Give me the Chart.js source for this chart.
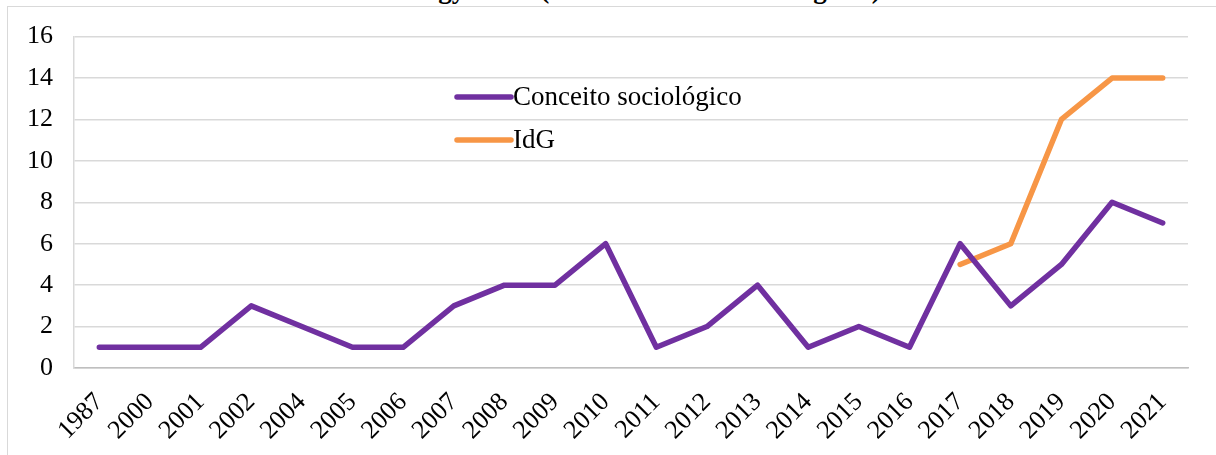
<!DOCTYPE html>
<html>
<head>
<meta charset="utf-8">
<script src="https://cdn.jsdelivr.net/npm/chart.js@4.4.1/dist/chart.umd.min.js"></script>
<style>
  html, body { margin: 0; padding: 0; background: #fff; overflow: hidden; }
  #wrap { position: relative; width: 1216px; height: 455px; }
  #frame { position: absolute; left: 7px; top: 6px; width: 1220px; height: 460px; border: 1.5px solid #d9d9d9; box-sizing: border-box; }
  #titulo { position: absolute; left: 0; width: 1250px; top: -26px; line-height: 27px; text-align: center; font: bold 27px "Liberation Serif", "Times New Roman", serif; color: #000; white-space: nowrap; }
  canvas { position: absolute; left: 0; top: 0; }
</style>
</head>
<body>
<div id="wrap">
  <div id="titulo">ideology" AfD (conservative-Ultrakategorie)</div>
  <div id="frame"></div>
  <canvas id="grafico" width="1216" height="455"></canvas>
</div>
<script>
// Dados
const anos = ['1987', '2000', '2001', '2002', '2004', '2005', '2006', '2007', '2008', '2009', '2010',
              '2011', '2012', '2013', '2014', '2015', '2016', '2017', '2018', '2019', '2020', '2021'];
const conceitoSociologico = [1, 1, 1, 3, 2, 1, 1, 3, 4, 4, 6, 1, 2, 4, 1, 2, 1, 6, 3, 5, 8, 7];
const idg = [null, null, null, null, null, null, null, null, null, null, null,
             null, null, null, null, null, null, 5, 6, 12, 14, 14];
const nomesSeries = ['Conceito sociológico', 'IdG'];
const coresSeries = ['#7030A0', '#F79646'];

const fonteSerif = '"Liberation Serif", "Times New Roman", serif';

// legenda desenhada dentro da área do gráfico
const legendaInterna = {
    id: 'legendaInterna',
    afterDraw(chart) {
        const ctx = chart.ctx;
        ctx.save();
        chart.data.datasets.forEach((ds, i) => {
            const y = 97 + i * 43;
            ctx.strokeStyle = ds.borderColor;
            ctx.lineWidth = 5.5;
            ctx.lineCap = 'round';
            ctx.beginPath();
            ctx.moveTo(457, y);
            ctx.lineTo(511, y);
            ctx.stroke();
            ctx.fillStyle = '#000';
            ctx.font = '27px ' + fonteSerif;
            ctx.textBaseline = 'middle';
            ctx.fillText(ds.label, 513, y + 1);
        });
        ctx.restore();
    }
};

const ctx = document.getElementById('grafico').getContext('2d');
new Chart(ctx, {
    type: 'line',
    data: {
        labels: anos,
        datasets: [
            { label: nomesSeries[0], data: conceitoSociologico, borderColor: coresSeries[0], backgroundColor: coresSeries[0] },
            { label: nomesSeries[1], data: idg, borderColor: coresSeries[1], backgroundColor: coresSeries[1] }
        ]
    },
    options: {
        responsive: false,
        animation: false,
        layout: { padding: { left: 0, top: 35, right: 28, bottom: 0 } },
        elements: {
            line: { borderWidth: 5.5, tension: 0, borderCapStyle: 'round', borderJoinStyle: 'round' },
            point: { radius: 0, hoverRadius: 0 }
        },
        plugins: { legend: { display: false }, title: { display: false }, tooltip: { enabled: false } },
        scales: {
            x: {
                offset: true,
                afterFit: s => { s.height = 87; },
                grid: { display: false, drawTicks: false },
                border: { color: '#bfbfbf', width: 1.5 },
                ticks: { color: '#000', font: { family: fonteSerif, size: 26 }, maxRotation: 45, minRotation: 45, padding: 19, autoSkip: false }
            },
            y: {
                min: 0, max: 16,
                afterFit: s => { s.width = 74; },
                grid: { color: '#d9d9d9', lineWidth: 1.5, drawTicks: false },
                border: { color: '#d9d9d9', width: 1.5 },
                ticks: { stepSize: 2, color: '#000', font: { family: fonteSerif, size: 26 }, padding: 21 }
            }
        }
    },
    plugins: [legendaInterna]
});
</script>
</body>
</html>
